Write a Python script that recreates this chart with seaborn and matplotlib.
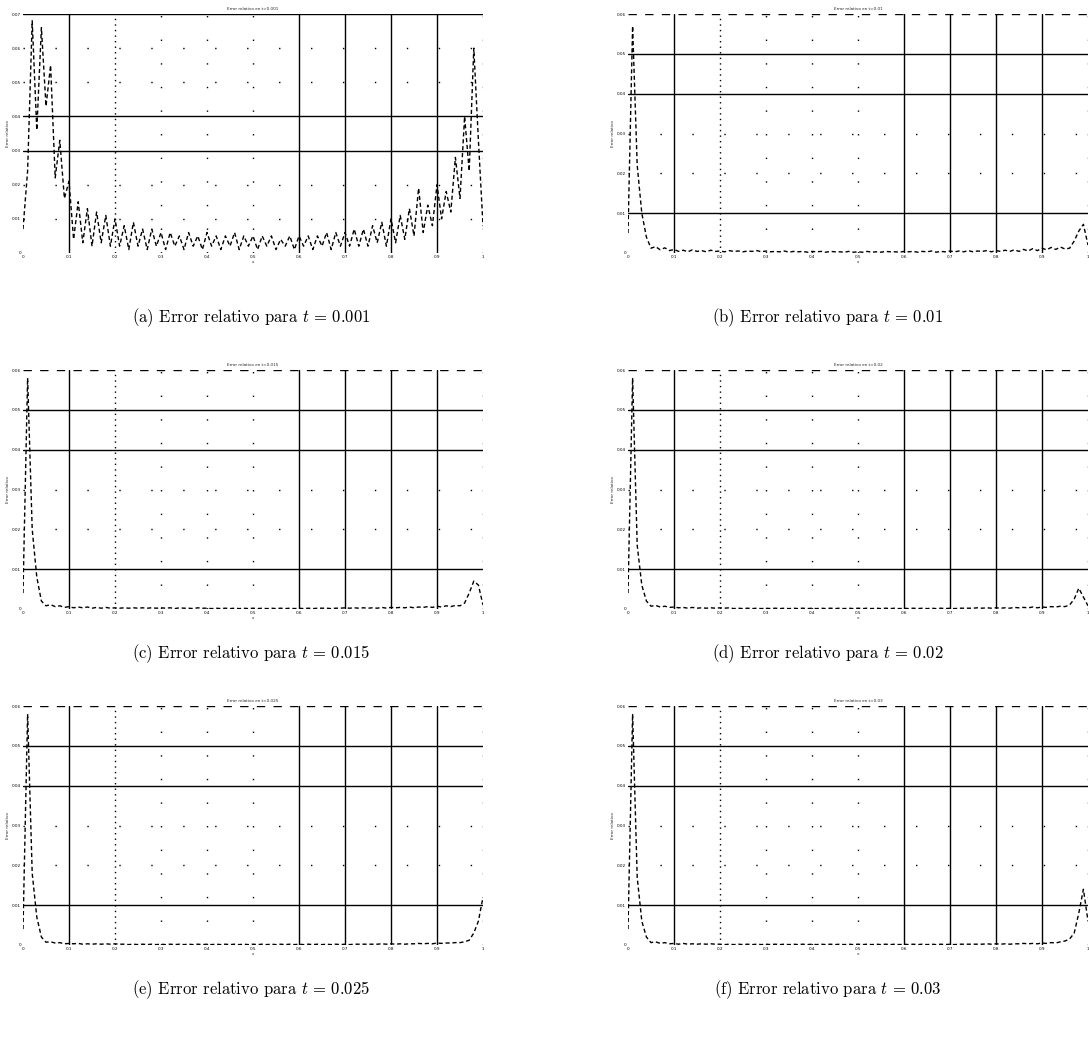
import numpy as np
import pandas as pd
import seaborn as sns
import matplotlib
matplotlib.use("Agg")
import matplotlib.pyplot as plt

sns.set_theme(style="white")
plt.rcParams["mathtext.fontset"] = "cm"
plt.rcParams["font.family"] = ["DejaVu Sans"]

# spatial grid on [0, 1]
x_nodes = np.linspace(0.0, 1.0, 101)

times = ["0.001", "0.01", "0.015", "0.02", "0.025", "0.03"]
letters = ["a", "b", "c", "d", "e", "f"]

err_001 = [0.007, 0.024, 0.068, 0.036, 0.066, 0.043, 0.055, 0.022, 0.033, 0.016,
           0.021, 0.004, 0.015, 0.003, 0.013, 0.002, 0.012, 0.003, 0.011, 0.002,
           0.010, 0.002, 0.008, 0.001, 0.009, 0.002, 0.007, 0.001, 0.007, 0.002,
           0.006, 0.001, 0.006, 0.002, 0.005, 0.001, 0.006, 0.002, 0.005, 0.001,
           0.006, 0.002, 0.005, 0.001, 0.005, 0.002, 0.006, 0.001, 0.005, 0.002,
           0.005, 0.001, 0.005, 0.002, 0.005, 0.001, 0.004, 0.002, 0.005, 0.001,
           0.005, 0.002, 0.005, 0.001, 0.005, 0.002, 0.006, 0.001, 0.006, 0.002,
           0.006, 0.002, 0.007, 0.002, 0.007, 0.002, 0.008, 0.003, 0.009, 0.002,
           0.010, 0.003, 0.011, 0.004, 0.013, 0.005, 0.019, 0.006, 0.014, 0.008,
           0.020, 0.010, 0.018, 0.012, 0.028, 0.016, 0.040, 0.024, 0.060, 0.033,
           0.008]

err_010 = [0.005, 0.057, 0.022, 0.010, 0.004, 0.0012, 0.0016, 0.0008, 0.0013, 0.0006,
           0.0009, 0.0004, 0.0007, 0.0003, 0.0008, 0.0004, 0.0006, 0.0003, 0.0007, 0.0004,
           0.0005, 0.0003, 0.0006, 0.0004, 0.0005, 0.0003, 0.0005, 0.0004, 0.0006, 0.0003,
           0.0005, 0.0003, 0.0004, 0.0003, 0.0005, 0.0002, 0.0004, 0.0003, 0.0004, 0.0002,
           0.0004, 0.0003, 0.0004, 0.0002, 0.0004, 0.0003, 0.0003, 0.0002, 0.0004, 0.0002,
           0.0003, 0.0002, 0.0004, 0.0002, 0.0003, 0.0002, 0.0004, 0.0003, 0.0003, 0.0002,
           0.0004, 0.0003, 0.0004, 0.0002, 0.0004, 0.0003, 0.0005, 0.0002, 0.0004, 0.0003,
           0.0005, 0.0003, 0.0005, 0.0003, 0.0006, 0.0003, 0.0005, 0.0004, 0.0006, 0.0003,
           0.0006, 0.0004, 0.0007, 0.0004, 0.0008, 0.0004, 0.0009, 0.0005, 0.0011, 0.0006,
           0.0012, 0.0008, 0.0014, 0.0009, 0.0015, 0.0010, 0.0012, 0.0030, 0.0055, 0.0072,
           0.0020]

err_015 = [0.004, 0.058, 0.020, 0.008, 0.002, 0.0008, 0.0011, 0.0006, 0.0008, 0.0004,
           0.0006, 0.0003, 0.0005, 0.0003, 0.0005, 0.0002, 0.0004, 0.0002, 0.0004, 0.0002,
           0.0003, 0.0002, 0.0003, 0.0002, 0.0003, 0.0002, 0.0003, 0.0002, 0.0003, 0.0002,
           0.0003, 0.0002, 0.0003, 0.0001, 0.0003, 0.0002, 0.0002, 0.0001, 0.0003, 0.0002,
           0.0002, 0.0001, 0.0002, 0.0001, 0.0002, 0.0001, 0.0002, 0.0001, 0.0002, 0.0001,
           0.0002, 0.0001, 0.0002, 0.0001, 0.0002, 0.0001, 0.0002, 0.0001, 0.0002, 0.0001,
           0.0002, 0.0001, 0.0002, 0.0001, 0.0002, 0.0002, 0.0002, 0.0001, 0.0002, 0.0002,
           0.0003, 0.0002, 0.0003, 0.0002, 0.0003, 0.0002, 0.0003, 0.0002, 0.0004, 0.0002,
           0.0004, 0.0003, 0.0004, 0.0003, 0.0005, 0.0003, 0.0005, 0.0004, 0.0006, 0.0004,
           0.0007, 0.0005, 0.0008, 0.0006, 0.0009, 0.0008, 0.0015, 0.0040, 0.0070, 0.0060,
           0.0010]

err_020 = [0.004, 0.058, 0.016, 0.006, 0.002, 0.0007, 0.0009, 0.0005, 0.0007, 0.0004,
           0.0005, 0.0003, 0.0004, 0.0002, 0.0004, 0.0002, 0.0003, 0.0002, 0.0003, 0.0002,
           0.0003, 0.0002, 0.0003, 0.0001, 0.0002, 0.0001, 0.0002, 0.0001, 0.0002, 0.0001,
           0.0002, 0.0001, 0.0002, 0.0001, 0.0002, 0.0001, 0.0002, 0.0001, 0.0002, 0.0001,
           0.0002, 0.0001, 0.0002, 0.0001, 0.0002, 0.0001, 0.0002, 0.0001, 0.0002, 0.0001,
           0.0002, 0.0001, 0.0002, 0.0001, 0.0002, 0.0001, 0.0002, 0.0001, 0.0002, 0.0001,
           0.0002, 0.0001, 0.0002, 0.0001, 0.0002, 0.0001, 0.0002, 0.0001, 0.0002, 0.0001,
           0.0002, 0.0001, 0.0002, 0.0002, 0.0002, 0.0002, 0.0003, 0.0002, 0.0003, 0.0002,
           0.0003, 0.0002, 0.0003, 0.0002, 0.0004, 0.0003, 0.0004, 0.0003, 0.0005, 0.0003,
           0.0005, 0.0004, 0.0006, 0.0005, 0.0007, 0.0006, 0.0010, 0.0025, 0.0052, 0.0030,
           0.0008]

err_025 = [0.004, 0.058, 0.018, 0.007, 0.002, 0.0007, 0.0008, 0.0005, 0.0006, 0.0003,
           0.0004, 0.0003, 0.0004, 0.0002, 0.0003, 0.0002, 0.0003, 0.0002, 0.0003, 0.0002,
           0.0003, 0.0002, 0.0002, 0.0001, 0.0002, 0.0001, 0.0002, 0.0001, 0.0002, 0.0001,
           0.0002, 0.0001, 0.0002, 0.0001, 0.0002, 0.0001, 0.0002, 0.0001, 0.0002, 0.0001,
           0.0002, 0.0001, 0.0002, 0.0001, 0.0002, 0.0001, 0.0002, 0.0001, 0.0002, 0.0001,
           0.0002, 0.0001, 0.0002, 0.0001, 0.0002, 0.0001, 0.0002, 0.0001, 0.0002, 0.0001,
           0.0002, 0.0001, 0.0002, 0.0001, 0.0002, 0.0001, 0.0002, 0.0001, 0.0002, 0.0001,
           0.0002, 0.0001, 0.0002, 0.0002, 0.0002, 0.0002, 0.0002, 0.0002, 0.0003, 0.0002,
           0.0003, 0.0002, 0.0003, 0.0002, 0.0003, 0.0003, 0.0004, 0.0003, 0.0004, 0.0003,
           0.0005, 0.0004, 0.0005, 0.0005, 0.0006, 0.0006, 0.0008, 0.0012, 0.0030, 0.0060,
           0.0120]

err_030 = [0.004, 0.058, 0.017, 0.006, 0.002, 0.0006, 0.0008, 0.0004, 0.0006, 0.0003,
           0.0004, 0.0002, 0.0004, 0.0002, 0.0003, 0.0002, 0.0003, 0.0002, 0.0003, 0.0002,
           0.0002, 0.0001, 0.0002, 0.0001, 0.0002, 0.0001, 0.0002, 0.0001, 0.0002, 0.0001,
           0.0002, 0.0001, 0.0002, 0.0001, 0.0002, 0.0001, 0.0002, 0.0001, 0.0002, 0.0001,
           0.0002, 0.0001, 0.0002, 0.0001, 0.0002, 0.0001, 0.0002, 0.0001, 0.0002, 0.0001,
           0.0002, 0.0001, 0.0002, 0.0001, 0.0002, 0.0001, 0.0002, 0.0001, 0.0002, 0.0001,
           0.0002, 0.0001, 0.0002, 0.0001, 0.0002, 0.0001, 0.0002, 0.0001, 0.0002, 0.0001,
           0.0002, 0.0001, 0.0002, 0.0002, 0.0002, 0.0002, 0.0002, 0.0002, 0.0003, 0.0002,
           0.0003, 0.0002, 0.0003, 0.0002, 0.0003, 0.0003, 0.0004, 0.0003, 0.0004, 0.0003,
           0.0005, 0.0004, 0.0006, 0.0005, 0.0008, 0.0010, 0.0015, 0.0030, 0.0080, 0.0140,
           0.0060]

series = [err_001, err_010, err_015, err_020, err_025, err_030]

x_ticks = [0, 0.1, 0.2, 0.3, 0.4, 0.5, 0.6, 0.7, 0.8, 0.9, 1]
x_ticklabels = ["0", "0.1", "0.2", "0.3", "0.4", "0.5", "0.6", "0.7", "0.8", "0.9", "1"]
y_ticks_first = [0, 0.01, 0.02, 0.03, 0.04, 0.05, 0.06, 0.07]
y_ticks_rest = [0, 0.01, 0.02, 0.03, 0.04, 0.05, 0.06]

W, H = 1089, 1044
fig = plt.figure(figsize=(W / 100, H / 100), dpi=100)

col_left = [23, 628]
ax_w = 460
row_top = [14, 370, 706]
ax_h = 239
caption_y = [318, 654, 990]
caption_x = [251, 828]

h_sparse = (0, (1, 22))
v_sparse = (0, (1, 16))
dense = (0, (1, 3))

for i, (vals, t, letter) in enumerate(zip(series, times, letters)):
    r, c = divmod(i, 2)
    left = col_left[c] / W
    bottom = (H - row_top[r] - ax_h) / H
    ax = fig.add_axes([left, bottom, ax_w / W, ax_h / H])

    df = pd.DataFrame({"x": x_nodes, "err": vals})
    sns.lineplot(data=df, x="x", y="err", ax=ax, color="black",
                 linestyle=(0, (3, 2)), linewidth=1.0)

    yt = y_ticks_first if i == 0 else y_ticks_rest
    ax.set_xlim(0, 1)
    ax.set_ylim(0, yt[-1])

    # grid lines in the MATLAB spirit: some read as solid, others as dots
    if i == 0:
        h_solid = [0.03, 0.04, 0.07]
    else:
        h_solid = [0.01, 0.04, 0.05]
    v_solid = [0.1, 0.6, 0.7, 0.8, 0.9]
    for yv in yt[1:]:
        if yv in h_solid:
            ax.axhline(yv, color="black", lw=1.0, zorder=1)
        elif i > 0 and yv == 0.06:
            ax.axhline(yv, color="black", lw=1.0, ls=(0, (6, 6)), zorder=1)
        else:
            ax.axhline(yv, color="black", lw=1.0, ls=h_sparse, zorder=1)
    for xv in x_ticks[1:]:
        if xv in v_solid:
            ax.axvline(xv, color="black", lw=1.0, zorder=1)
        elif xv == 0.2:
            ax.axvline(xv, color="black", lw=1.0, ls=dense, zorder=1)
        else:
            ax.axvline(xv, color="black", lw=1.0, ls=v_sparse, zorder=1)

    for s in ax.spines.values():
        s.set_visible(False)
    ax.set_xticks(x_ticks)
    ax.set_xticklabels(x_ticklabels)
    ax.set_yticks(yt)
    ax.set_yticklabels([("0" if v == 0 else f"{v:.2f}") for v in yt])
    ax.tick_params(axis="both", length=0, labelsize=3, pad=1.5, colors="black")
    ax.set_xlabel("x", fontsize=3, labelpad=1)
    ax.set_ylabel("Error relativo", fontsize=3, labelpad=1)
    ax.set_title(f"Error relativo en t={t}", fontsize=3, pad=3)
    ax.grid(False)

    fig.text(caption_x[c] / W, 1 - caption_y[r] / H,
             f"({letter}) Error relativo para $t\\,=\\,{t}$",
             ha="center", va="center", fontsize=12, family="cmr10",
             color="black")

fig.savefig("out.png", dpi=100, facecolor="white")
